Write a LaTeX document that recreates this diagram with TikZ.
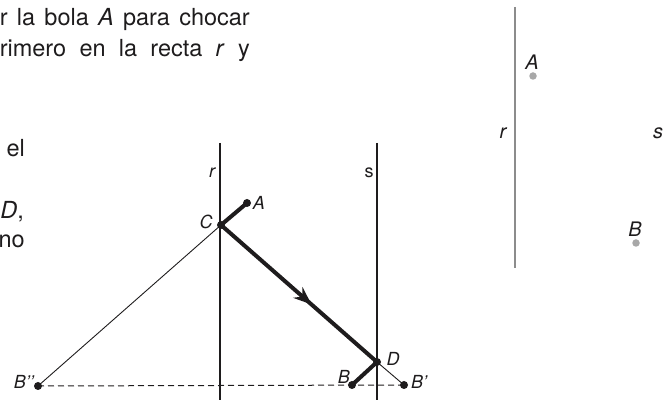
\documentclass[tikz,border=0pt]{standalone}
\usepackage{fontspec}
\setmainfont{TeX Gyre Heros}
\usetikzlibrary{decorations.markings,arrows.meta}
\definecolor{ink}{HTML}{1E1C1D}
\definecolor{greyline}{HTML}{8C8C8C}
\definecolor{greydot}{HTML}{A8A8A8}
\tikzset{
  body/.style={font=\fontsize{23.5}{31}\selectfont, text=ink, inner sep=0pt},
  lab/.style={font=\fontsize{18}{20}\selectfont\itshape, text=ink, inner sep=0pt},
  labR/.style={font=\fontsize{20}{24}\selectfont\itshape, text=ink, inner sep=0pt},
  mirror/.style={draw=ink, line width=2.6pt},
  thickpath/.style={draw=ink, line width=4pt},
  thinpath/.style={draw=ink, line width=0.9pt},
  dashpath/.style={draw=ink, line width=1pt, dash pattern=on 6pt off 4pt},
  dot/.style={circle, fill=ink, inner sep=0pt, minimum size=8pt},
  gdot/.style={circle, fill=greydot, inner sep=0pt, minimum size=7.5pt},
}
\begin{document}
\begin{tikzpicture}[x=1pt,y=-1pt]
\useasboundingbox (0,0) rectangle (665,403);
% text fragments
\node[body, anchor=base east] (t1) at (250,26) {\makebox[250pt][s]{r la bola \textit{A} para chocar}};
\node[body, anchor=base east] (t2) at (250,57) {\makebox[250pt][s]{rimero en la recta \textit{r} y}};
\node[body, anchor=base east] (t3) at (25,157) {el};
\node[body, anchor=base east] (t4) at (24,219) {\textit{D},};
\node[body, anchor=base east] (t5) at (25,248) {no};
% mirrors
\coordinate (rtop) at (220,143);
\coordinate (rbot) at (220,400);
\coordinate (stop) at (377,143);
\coordinate (sbot) at (377,400);
\draw[mirror] (rtop) -- (rbot);
\draw[mirror] (stop) -- (sbot);
\node[lab] (rl) at (212,173) {r};
\node[lab] (sl) at (369,173) {\upshape s};
% points
\coordinate (A) at (247,203);
\coordinate (C) at (221,225);
\coordinate (D) at (377,362);
\coordinate (B) at (352,385);
\coordinate (B1) at (404,385);
\coordinate (B2) at (38,386);
\draw[dashpath] (B2) -- (B1);
\draw[thinpath] (C) -- (B2);
\draw[thinpath] (D) -- (B1);
\draw[thickpath, line join=round] (A) -- (C);
\draw[thickpath, postaction={decorate, decoration={markings, mark=at position 0.58 with {\arrow{Stealth[length=18pt,width=14pt,inset=6pt]}}}}] (C) -- (D);
\draw[thickpath] (D) -- (B);
\node[dot] (Ad) at (A) {};
\node[dot] (Cd) at (C) {};
\node[dot] (Dd) at (D) {};
\node[dot] (Bd) at (B) {};
\node[dot] (B1d) at (B1) {};
\node[dot] (B2d) at (B2) {};
\node[lab] (Al) at (259,203) {A};
\node[lab] (Cl) at (206,222) {C};
\node[lab] (Dl) at (393,359) {D};
\node[lab] (Bl) at (344,377) {B};
\node[lab, anchor=west] (B1l) at (411,382) {B’};
\node[lab, anchor=east] (B2l) at (34,382) {B’’};
% right figure
\coordinate (rt2) at (515,7);
\coordinate (rb2) at (515,268);
\draw[draw=greyline, line width=2.2pt] (rt2) -- (rb2);
\node[gdot] (Ar) at (533,76) {};
\node[gdot] (Br) at (636,243) {};
\node[labR] (Arl) at (532,62) {A};
\node[labR] (Brl) at (635,229) {B};
\node[labR] (rr) at (503,133) {r};
\node[labR] (sr) at (658,133) {s};
\end{tikzpicture}
\end{document}
